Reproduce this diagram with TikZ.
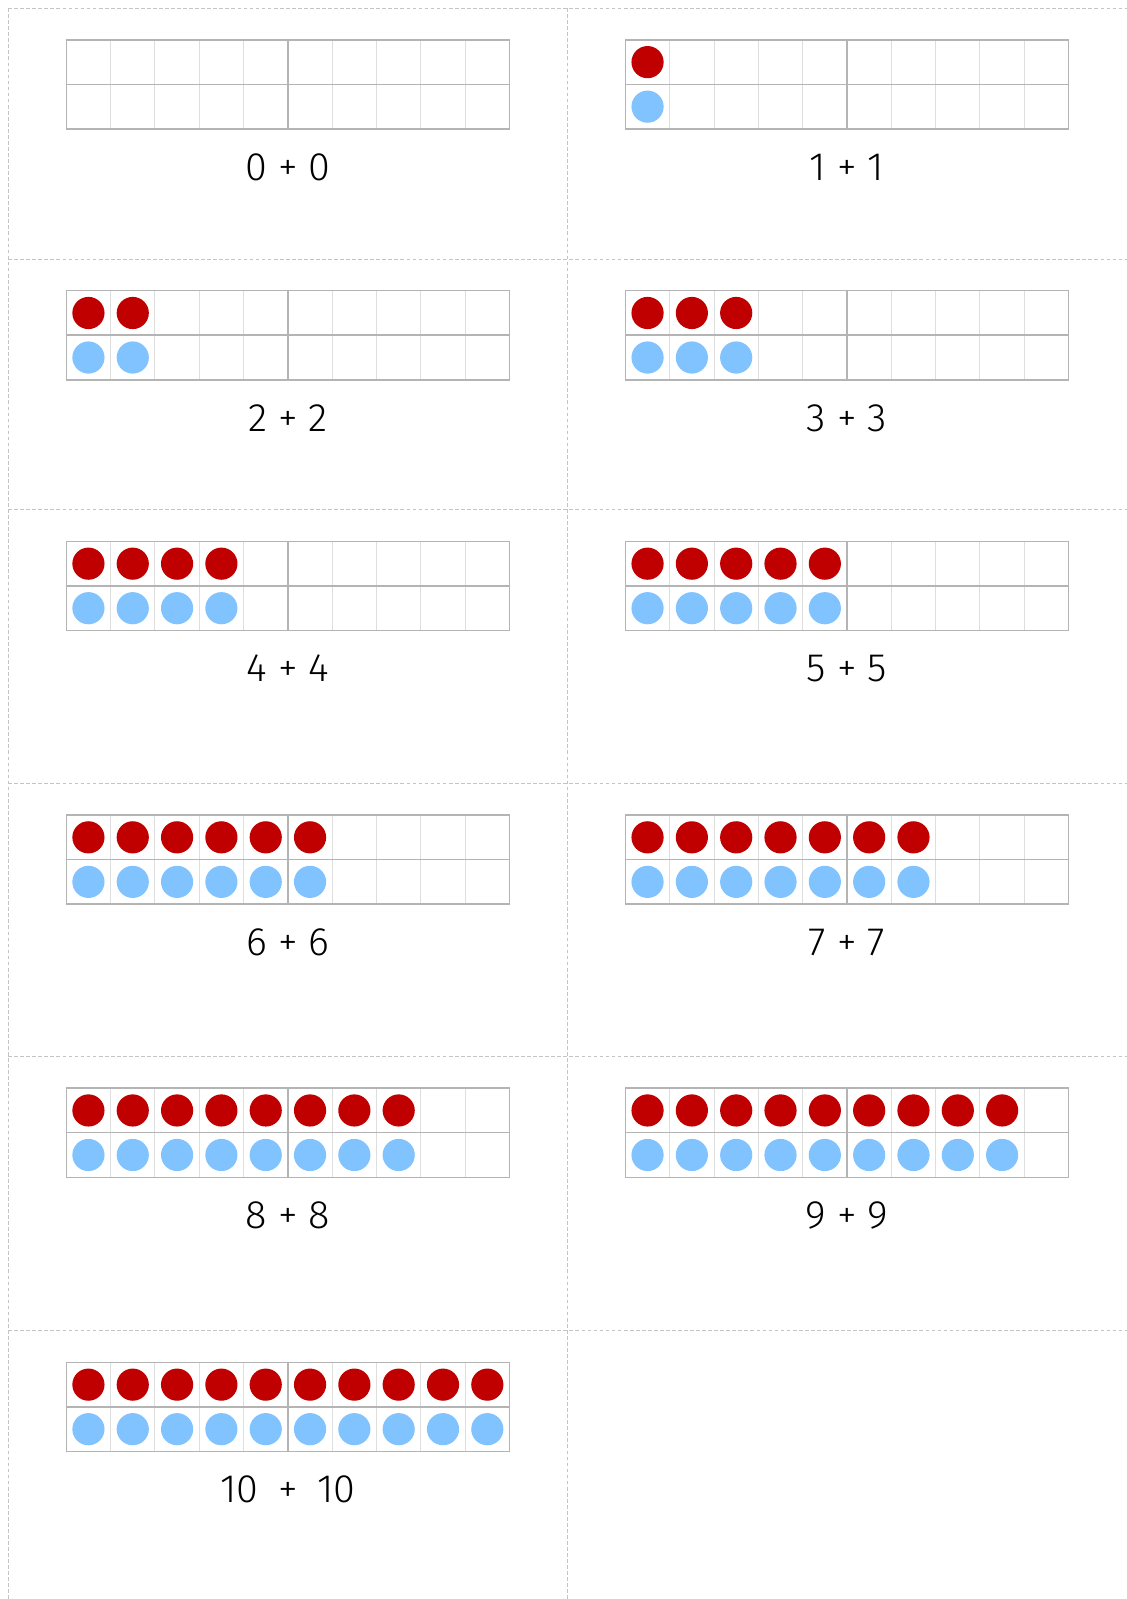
\documentclass[tikz,border=0pt]{standalone}
\usepackage{fontspec}
\newfontfamily\sumfont{Fira Sans Light}
\definecolor{dotred}{HTML}{C00000}
\definecolor{dotblue}{HTML}{80C3FF}
\definecolor{framegrey}{HTML}{B4B4B4}
\definecolor{cellgrey}{HTML}{DEDEDE}
\definecolor{cutgrey}{HTML}{C4C4C4}

\begin{document}
\begin{tikzpicture}[y=-1cm,cutline/.style={draw=cutgrey,line width=0.45pt,dash pattern=on 2pt off 1.2pt},frameline/.style={draw=framegrey,line width=0.8pt},cellline/.style={draw=cellgrey,line width=0.5pt},reddot/.style={fill=dotred},bluedot/.style={fill=dotblue},sumlabel/.style={font=\sumfont\fontsize{21}{24}\selectfont,inner sep=0pt}]
\useasboundingbox (0,0) rectangle (21,29.8);
% cutting lines of the cards
\foreach \ry in {0.153,4.828,9.50,14.60,19.69,24.80}
  \draw[cutline] (0.153,\ry) -- (21,\ry);
\draw[cutline] (0.153,0.153) -- (0.153,29.8);
\draw[cutline] (10.58,0.153) -- (10.58,29.8);
% one card: ten frame, dots and the sum
\foreach \n/\gx/\gy/\txt in {0/1.235/0.743/{0 + 0},1/11.655/0.743/{1 + 1},2/1.235/5.418/{2 + 2},3/11.655/5.418/{3 + 3},4/1.235/10.09/{4 + 4},5/11.655/10.09/{5 + 5},6/1.235/15.19/{6 + 6},7/11.655/15.19/{7 + 7},8/1.235/20.28/{8 + 8},9/11.655/20.28/{9 + 9},10/1.235/25.39/{10\enspace+\enspace10}}{
  \foreach \i in {1,...,9}
    \draw[cellline] (\gx+\i*0.826,\gy) -- ++(0,1.66);
  \draw[frameline] (\gx,\gy+0.83) -- ++(8.26,0);
  \draw[frameline] (\gx+4.13,\gy) -- ++(0,1.66);
  \draw[frameline] (\gx,\gy) rectangle ++(8.26,1.66);
  \ifnum\n>0
    \foreach \i in {1,...,\n}{
      \fill[reddot] (\gx+\i*0.826-0.413,\gy+0.415) circle (0.3);
      \fill[bluedot] (\gx+\i*0.826-0.413,\gy+1.245) circle (0.3);
    }
  \fi
  \node[sumlabel] (sum\n) at (\gx+4.13,\gy+2.37) {\txt};
}
\end{tikzpicture}
\end{document}
